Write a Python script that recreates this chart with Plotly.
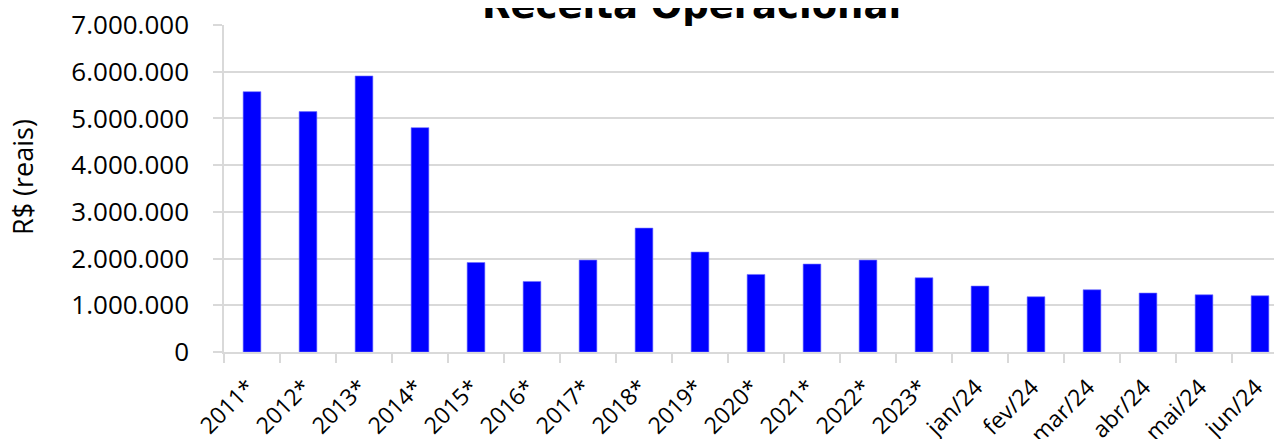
import plotly.graph_objects as go

categories = ["2011*", "2012*", "2013*", "2014*", "2015*", "2016*", "2017*", "2018*",
              "2019*", "2020*", "2021*", "2022*", "2023*", "jan/24", "fev/24",
              "mar/24", "abr/24", "mai/24", "jun/24"]
receita = [5573000, 5146000, 5909000, 4803000, 1916000, 1510000, 1967000, 2652000,
           2139000, 1660000, 1882000, 1967000, 1589000, 1411000, 1183000,
           1332000, 1262000, 1225000, 1204000]
y_ticks = [0, 1000000, 2000000, 3000000, 4000000, 5000000, 6000000, 7000000]

title_text = "Receita Operacional"
y_title = "R$ (reais)"

# the page body adds an 8px offset; figure coordinates are page coordinates - 8
OFF = 8
W, H = 1282 - OFF, 439 - OFF
L, T = 224 - OFF, 25 - OFF
B = H - (352 - OFF)
plot_w = W - L
plot_h = H - T - B
cat_px = 56.0

grid_col = "#d9d9d9"

fig = go.Figure()
fig.add_trace(go.Bar(
    x=categories, y=receita,
    marker=dict(color="#0000ff", line=dict(color="#6f6fff", width=0.6)),
    width=0.316,
))

fig.update_layout(
    width=W, height=H,
    margin=dict(l=L, r=0, t=T, b=B, pad=0, autoexpand=False),
    paper_bgcolor="white", plot_bgcolor="white",
    separators=",.",
    showlegend=False,
    bargap=0.68,
    xaxis=dict(
        type="category",
        automargin=False,
        range=[-0.5, -0.5 + plot_w / cat_px],
        tickangle=-45,
        tickfont=dict(family="Open Sans", size=23, color="#000000"),
        ticks="outside", ticklen=9, tickwidth=1.5, tickcolor=grid_col,
        tickson="boundaries",
        showline=True, linecolor=grid_col, linewidth=1.5,
        showgrid=False,
        ticklabelstandoff=11,
        ticklabelshift=-4,
        ticklabeloverflow="allow",
    ),
    yaxis=dict(
        automargin=False,
        range=[0, 7000000],
        tickvals=y_ticks,
        tickformat=",.0f",
        tickfont=dict(family="Open Sans", size=26, color="#000000"),
        ticks="outside", ticklen=9, tickwidth=1.5, tickcolor=grid_col,
        showline=True, linecolor=grid_col, linewidth=1.5,
        showgrid=True, gridcolor=grid_col, gridwidth=1.5,
        zeroline=False,
        ticklabelstandoff=19,
        ticklabeloverflow="allow",
    ),
)

fig.add_annotation(
    text="<b>" + title_text + "</b>",
    xref="paper", yref="paper",
    x=(691 - OFF - L) / plot_w, y=1 + (T + 3) / plot_h,
    xanchor="center", yanchor="middle",
    showarrow=False,
    font=dict(family="DejaVu Sans", size=37, color="#000000"),
)
fig.add_annotation(
    text=y_title,
    xref="paper", yref="paper",
    x=(23 - OFF - L) / plot_w, y=(H - B - (177 - OFF)) / plot_h,
    xanchor="center", yanchor="middle",
    textangle=-90,
    showarrow=False,
    font=dict(family="Open Sans", size=27, color="#000000"),
)

fig.write_html("out.html")
